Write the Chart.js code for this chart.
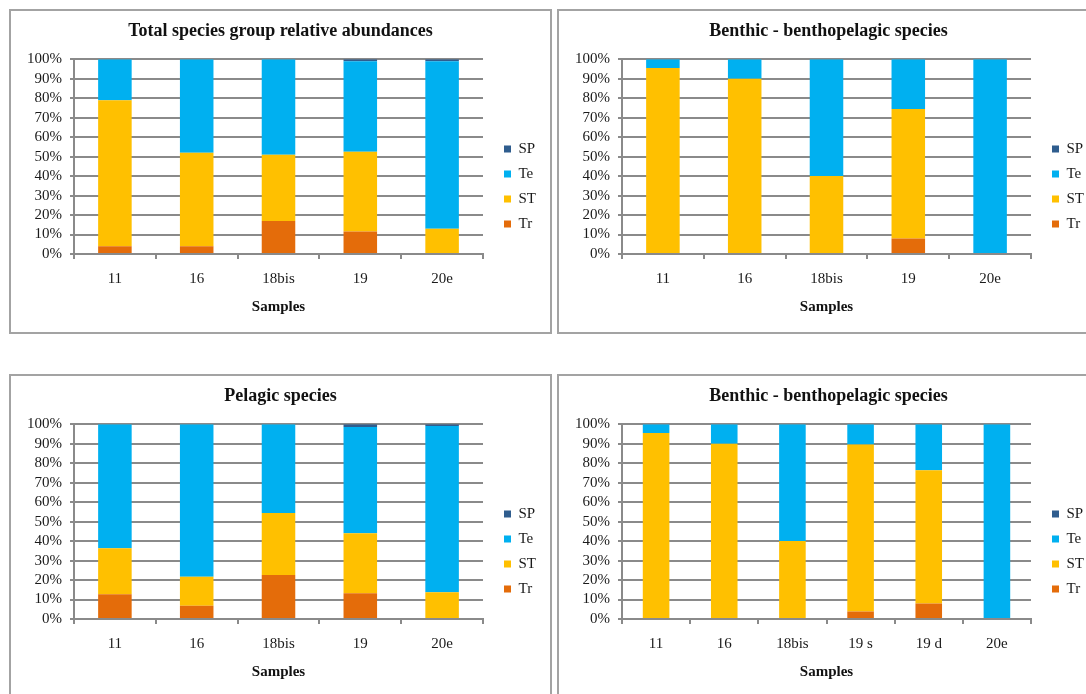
<!DOCTYPE html>
<html>
<head>
<meta charset="utf-8">
<script src="https://cdn.jsdelivr.net/npm/chart.js@4.4.1/dist/chart.umd.min.js"></script>
<style>
  html, body { margin: 0; padding: 0; background: #fff; width: 1086px; height: 694px; overflow: hidden; }
  .panel { position: absolute; width: 543px; height: 325px; border: 2px solid #a3a3a3; box-sizing: border-box; background: #fff; }
  .panel canvas { display: block; }
</style>
</head>
<body>
<div class="panel" style="left:9px;top:9px"><canvas id="total" width="539" height="321"></canvas></div>
<div class="panel" style="left:557px;top:9px"><canvas id="benthic" width="539" height="321"></canvas></div>
<div class="panel" style="left:9px;top:374px"><canvas id="pelagic" width="539" height="321"></canvas></div>
<div class="panel" style="left:557px;top:374px"><canvas id="benthic2" width="539" height="321"></canvas></div>

<script>
// sample names on the x axis
const samples = ['11', '16', '18bis', '19', '20e'];
const samplesSplit = ['11', '16', '18bis', '19 s', '19 d', '20e'];
const yTicks = [0, 10, 20, 30, 40, 50, 60, 70, 80, 90, 100];

// total species group relative abundances (%)
const totalTr = [4, 4, 17, 11.5, 0];
const totalST = [75, 48, 34, 41, 13];
const totalTe = [21, 48, 49, 46.5, 86];
const totalSP = [0, 0, 0, 1, 1];

// benthic - benthopelagic species (%)
const benthicTr = [0, 0, 0, 8, 0];
const benthicST = [95.5, 90, 40, 66.5, 0];
const benthicTe = [4.5, 10, 60, 25.5, 100];
const benthicSP = [0, 0, 0, 0, 0];

// pelagic species (%)
const pelagicTr = [12.7, 6.8, 22.6, 13.2, 0];
const pelagicST = [23.6, 14.9, 31.9, 30.8, 13.7];
const pelagicTe = [63.7, 78.3, 45.5, 54.6, 85.4];
const pelagicSP = [0, 0, 0, 1.4, 0.9];

// benthic - benthopelagic species, sample 19 split (%)
const benthic2Tr = [0, 0, 0, 3.8, 7.9, 0];
const benthic2ST = [95.5, 90, 40, 85.8, 68.5, 0];
const benthic2Te = [4.5, 10, 60, 10.4, 23.6, 100];
const benthic2SP = [0, 0, 0, 0, 0, 0];

const colors = { Tr: '#E46C0A', ST: '#FFC000', Te: '#00B0F0', SP: '#2F5D8E' };
const gridColor = '#8a8a8a';
const textColor = '#1a1a1a';

Chart.defaults.font.family = "'Liberation Serif', 'Times New Roman', serif";
Chart.defaults.color = textColor;

// moves the legend to the right of the plot, like the original
const legendPlace = {
  id: 'legendPlace',
  afterLayout(chart) {
    const lg = chart.legend;
    if (!lg) return;
    const w = lg.right - lg.left;
    lg.left = 483;
    lg.right = 483 + w;
    lg.top = 130.5 - 10;
    lg.bottom = lg.top + 10 + 100;
  }
};

function makeChart(id, title, labels, tr, st, te, sp, barPct) {
  const ctx = document.getElementById(id).getContext('2d');
  const set = (name, data) => ({
    label: name,
    data: data,
    backgroundColor: colors[name],
    borderWidth: 0,
    barPercentage: barPct,
    categoryPercentage: 1
  });
  return new Chart(ctx, {
    type: 'bar',
    data: {
      labels: labels,
      datasets: [set('Tr', tr), set('ST', st), set('Te', te), set('SP', sp)]
    },
    options: {
      responsive: false,
      animation: false,
      plugins: {
        title: {
          display: true,
          text: title,
          color: '#111',
          font: { size: 18, weight: 'bold' },
          padding: { top: 10, bottom: 16.7 }
        },
        legend: {
          position: 'chartArea',
          reverse: true,
          labels: { boxWidth: 7, boxHeight: 7, padding: 10, color: textColor, font: { size: 15 } }
        },
        tooltip: { enabled: false }
      },
      scales: {
        x: {
          stacked: true,
          grid: { drawOnChartArea: false, drawTicks: true, tickLength: 5, color: gridColor, lineWidth: 2, offset: true },
          border: { display: true, color: gridColor, width: 2 },
          ticks: { color: textColor, font: { size: 15 }, padding: 11, maxRotation: 0, autoSkip: false },
          title: { display: true, text: 'Samples', color: '#111', font: { size: 15, weight: 'bold' }, padding: { top: 0, bottom: 16 } },
          afterFit: s => { s.height = 78; }
        },
        y: {
          stacked: true,
          min: 0,
          max: 100,
          afterBuildTicks: s => { s.ticks = yTicks.map(v => ({ value: v })); },
          ticks: { color: textColor, font: { size: 15 }, padding: 8, autoSkip: false, callback: v => v + '%' },
          grid: { color: gridColor, lineWidth: 2, tickLength: 4 },
          border: { display: true, color: gridColor, width: 2 },
          afterFit: s => { s.width = 63; }
        },
        // empty right-hand space where the legend sits
        legendSpace: {
          type: 'linear',
          position: 'right',
          display: true,
          grid: { display: false },
          border: { display: false },
          ticks: { display: false },
          afterFit: s => { s.width = 67; }
        }
      }
    },
    plugins: [legendPlace]
  });
}

makeChart('total', 'Total species group relative abundances', samples, totalTr, totalST, totalTe, totalSP, 0.41);
makeChart('benthic', 'Benthic - benthopelagic species', samples, benthicTr, benthicST, benthicTe, benthicSP, 0.41);
makeChart('pelagic', 'Pelagic species', samples, pelagicTr, pelagicST, pelagicTe, pelagicSP, 0.41);
makeChart('benthic2', 'Benthic - benthopelagic species', samplesSplit, benthic2Tr, benthic2ST, benthic2Te, benthic2SP, 0.39);
</script>
</body>
</html>
